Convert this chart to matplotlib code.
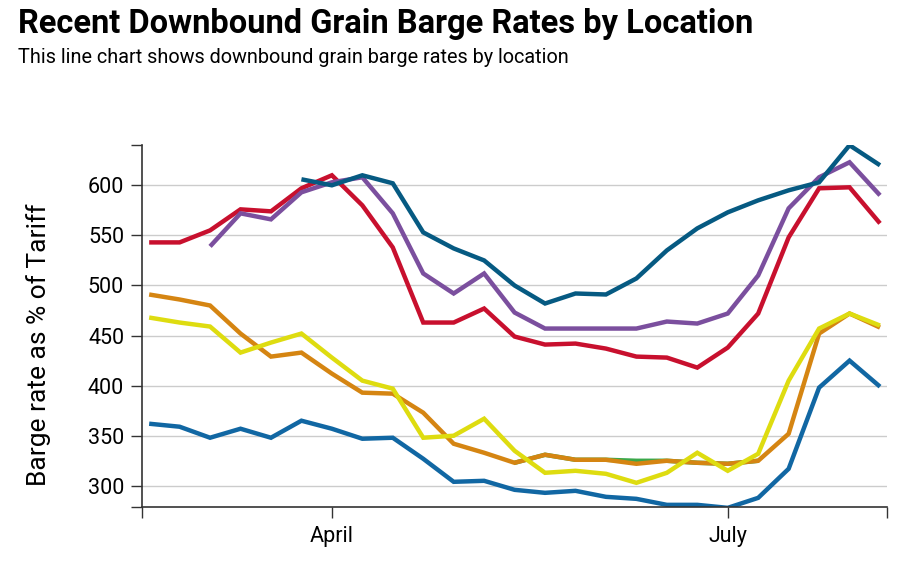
import datetime as dt
import matplotlib
matplotlib.use("Agg")
import matplotlib.pyplot as plt
import matplotlib.dates as mdates

plt.rcParams['font.family'] = ['Roboto', 'DejaVu Sans']

# weekly observations, first week 18 Feb, last week 5 Aug
start = dt.date(2025, 2, 18)
weeks = [start + dt.timedelta(days=7 * i) for i in range(25)]

# barge rates (% of tariff) per location
red = [543, 543, 555, 576, 574, 597, 610, 580, 538, 463, 463, 477, 449,
       441, 442, 437, 429, 428, 418, 438, 472, 548, 597, 598, 562]
purple = [None, None, 539, 572, 566, 593, 603, 608, 572, 512, 492, 512, 473,
          457, 457, 457, 457, 464, 462, 472, 510, 577, 608, 623, 590]
teal = [None, None, None, None, None, 606, 600, 610, 602, 553, 537, 525, 500,
        482, 492, 491, 507, 535, 557, 573, 585, 595, 603, 640, 620]
green = [None, None, None, None, None, None, None, None, None, None, None, None, 323,
         331, 326, 326, 325, 325, 323, 322, 325, None, None, None, None]
orange = [491, 486, 480, 452, 429, 433, 412, 393, 392, 373, 342, 333, 323,
          331, 326, 326, 322, 325, 323, 322, 325, 352, 452, 472, 458]
yellow = [468, 463, 459, 433, 443, 452, 428, 405, 397, 348, 350, 367, 335,
          313, 315, 312, 303, 313, 333, 315, 332, 405, 457, 472, 460]
blue = [362, 359, 348, 357, 348, 365, 357, 347, 348, 327, 304, 305, 296,
        293, 295, 289, 287, 281, 281, 278, 288, 317, 398, 425, 399]

series = [
    (green, '#3aa84a'),
    (red, '#c8102e'),
    (purple, '#7b4f9e'),
    (teal, '#065a82'),
    (orange, '#d58512'),
    (yellow, '#dedc10'),
    (blue, '#1167a3'),
]

fig = plt.figure(figsize=(9, 5.88), dpi=100)
ax = fig.add_axes([0.158, 0.138, 0.828, 0.615])

for values, color in series:
    ax.plot(weeks, [float('nan') if v is None else v for v in values],
            color=color, lw=3.2, solid_capstyle='butt', solid_joinstyle='miter')

x0 = mdates.date2num(start) - 1.6
x1 = mdates.date2num(weeks[-1]) + 1.7
ax.set_xlim(x0, x1)
ax.set_ylim(279, 640)

ax.set_yticks([300, 350, 400, 450, 500, 550, 600])
ax.set_yticks([279, 640], minor=True)
ax.set_xticks([mdates.date2num(dt.date(2025, 4, 1)), mdates.date2num(dt.date(2025, 7, 1))])
ax.set_xticklabels(['April', 'July'])
ax.set_xticks([x0, x1], minor=True)
ax.tick_params(axis='both', which='both', length=8, width=1, color='#333333',
               labelsize=15.5, direction='out')
ax.tick_params(axis='x', pad=6)
ax.tick_params(axis='y', pad=5)

ax.grid(axis='y', which='major', color='#cccccc', lw=1)
ax.set_axisbelow(True)
for side in ['top', 'right']:
    ax.spines[side].set_visible(False)
for side in ['left', 'bottom']:
    ax.spines[side].set_color('#333333')
    ax.spines[side].set_linewidth(1.2)

fig.text(0.043, 0.413, 'Barge rate as % of Tariff', fontsize=19,
         rotation=90, ha='center', va='center')

fig.text(0.02, 0.944, 'Recent Downbound Grain Barge Rates by Location',
         fontsize=23.5, fontweight='bold', va='baseline')
fig.text(0.02, 0.893, 'This line chart shows downbound grain barge rates by location',
         fontsize=14.3, va='baseline')

fig.savefig('out.png', dpi=100)
